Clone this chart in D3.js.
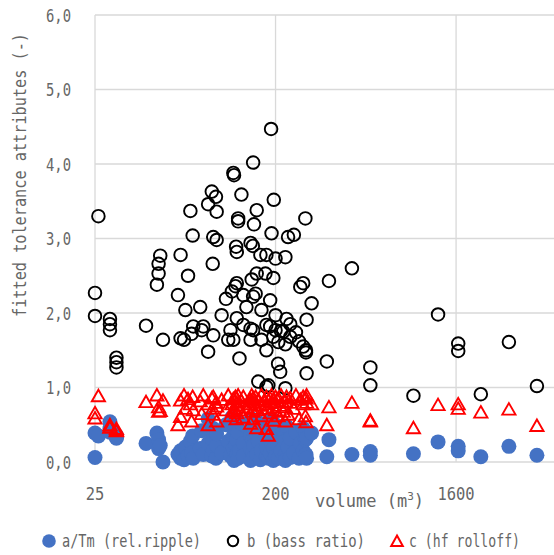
<!DOCTYPE html>
<html>
<head>
<meta charset="utf-8">
<script src="https://cdn.jsdelivr.net/npm/d3@7"></script>
<style>
    body { margin: 0; background: #fff; }
    text { font-family: 'DejaVu Sans Mono', monospace; fill: #666; }
</style>
</head>
<body>
<svg></svg>
<script>
// room volumes (m3), one entry per room
const volume = [25,25,26,29.7,29.7,29.7,32,32,32,45,
    51,52,52,53,54.7,65,67,67,69.7,70.8,
    73,75,76,77,77.5,84,85.4,87,92,92,
    96,97,97.6,97.6,100.7,101.5,101.5,107.5,113,116,
    119,121,123,123,124,126,127,128,128,128,
    130,130,132,135,138,138,143,150,150,150,
    152,154,154.5,154.5,154.5,156,159,161,161,164,
    168,170,170,178,180,180,180,180,184,188,
    188,190,191,195,195,196,200,200,200,206,
    206.5,211,213,218.5,224,224,224,227,231,237,
    237,247,253,262,266,275,275,282,284,284,
    286,286,303,361,370,482,596,596,979,1300,
    1640,1640,2128,2940,4060];

// a/Tm (rel.ripple)
const ripple = [0.39,0.06,0.35,0.54,0.40,0.45,0.32,0.36,0.33,0.25,
    0.39,0.18,0.30,0.22,0.00,0.10,0.05,0.15,0.03,0.20,
    0.08,0.28,0.12,0.35,0.05,0.18,0.42,0.10,0.25,0.58,
    0.08,0.30,0.15,0.45,0.05,0.22,0.38,0.12,0.50,0.28,
    0.08,0.60,0.18,0.35,0.02,0.45,0.22,0.10,0.55,0.30,
    0.05,0.40,0.15,0.52,0.25,0.08,0.48,0.18,0.35,0.02,
    0.58,0.12,0.30,0.45,0.05,0.22,0.40,0.10,0.55,0.28,
    0.03,0.48,0.15,0.36,0.08,0.52,0.20,0.42,0.05,0.30,
    0.12,0.58,0.25,0.02,0.45,0.18,0.38,0.08,0.50,0.22,
    0.05,0.35,0.15,0.42,0.10,0.28,0.02,0.48,0.20,0.06,
    0.32,0.12,0.40,0.05,0.25,0.15,0.45,0.30,0.10,0.38,
    0.05,0.32,0.39,0.07,0.30,0.10,0.14,0.09,0.11,0.27,
    0.21,0.15,0.07,0.21,0.09];

// b (bass ratio)
const bass = [2.27,1.96,3.30,1.92,1.85,1.77,1.40,1.34,1.27,1.83,
    2.38,2.66,2.53,2.77,1.64,2.24,2.78,1.66,1.64,2.04,
    2.50,3.37,1.72,3.04,1.82,2.08,1.77,1.82,3.46,1.48,
    3.63,2.66,3.02,1.70,3.56,3.36,2.98,1.97,2.19,1.64,
    1.77,2.29,3.88,1.64,3.85,2.36,2.89,2.82,2.40,1.93,
    3.27,3.23,1.39,3.59,2.24,1.84,2.08,2.94,1.64,1.79,
    2.45,2.90,4.02,1.77,2.22,3.19,2.26,3.38,2.53,1.08,
    2.78,2.04,1.64,2.53,2.78,1.84,1.50,1.01,1.03,2.17,
    1.82,4.47,3.07,2.47,1.68,3.52,2.73,1.97,1.77,1.32,
    1.61,1.21,1.76,1.75,2.75,0.99,1.58,1.92,3.02,1.68,
    1.85,3.05,1.74,1.62,2.35,2.40,1.55,3.27,1.50,1.47,
    1.91,1.19,2.13,1.35,2.43,2.60,1.27,1.03,0.89,1.98,
    1.59,1.49,0.91,1.61,1.02];

// c (hf rolloff)
const rolloff = [0.66,0.59,0.89,0.47,0.50,0.47,0.43,0.42,0.45,0.81,
    0.90,0.74,0.68,0.69,0.83,0.50,0.61,0.83,0.90,0.72,
    0.85,0.78,0.55,0.88,0.70,0.82,0.65,0.90,0.78,0.50,
    0.86,0.72,0.64,0.88,0.80,0.55,0.75,0.84,0.70,0.90,
    0.62,0.78,0.85,0.68,0.72,0.88,0.58,0.80,0.66,0.86,
    0.76,0.90,0.70,0.82,0.60,0.88,0.74,0.84,0.52,0.78,
    0.90,0.68,0.86,0.72,0.58,0.80,0.88,0.70,0.46,0.84,
    0.76,0.90,0.62,0.82,0.72,0.88,0.45,0.78,0.36,0.86,
    0.66,0.80,0.90,0.74,0.84,0.56,0.88,0.70,0.80,0.62,
    0.86,0.76,0.90,0.68,0.82,0.55,0.74,0.88,0.64,0.80,
    0.86,0.72,0.90,0.58,0.84,0.78,0.88,0.62,0.86,0.54,
    0.80,0.90,0.78,0.50,0.74,0.80,0.55,0.56,0.46,0.77,
    0.78,0.72,0.67,0.71,0.49];

const xTicks = [25, 200, 1600];
const yTicks = [0, 1, 2, 3, 4, 5, 6];

const legendNames = ['a/Tm (rel.ripple)', 'b (bass ratio)', 'c (hf rolloff)'];

const svg = d3.select('svg')
    .attr('width', 554)
    .attr('height', 555);

// plot area edges
const plotLeft = 95,
    plotRight = 554,
    plotTop = 15,
    plotBottom = 462,
    grid = '#d9d9d9';

// log axis, one grid step is a factor 8
const x = d3.scaleLog().domain([25, 5000]).range([plotLeft, 555]);
const y = d3.scaleLinear().domain([0, 6]).range([plotBottom, plotTop]);

// horizontal gridlines
svg.append('g').selectAll('line')
    .data(yTicks)
    .join('line')
    .attr('x1', plotLeft).attr('x2', plotRight)
    .attr('y1', d => y(d)).attr('y2', d => y(d))
    .attr('stroke', grid).attr('stroke-width', 1.3);

// vertical gridlines (the first one is the axis)
svg.append('g').selectAll('line')
    .data(xTicks)
    .join('line')
    .attr('x1', d => x(d)).attr('x2', d => x(d))
    .attr('y1', plotTop).attr('y2', plotBottom)
    .attr('stroke', grid).attr('stroke-width', 1.3);

// y tick labels, comma decimals
svg.append('g').selectAll('text')
    .data(yTicks)
    .join('text')
    .attr('x', 71)
    .attr('y', d => y(d) + 6.5)
    .attr('text-anchor', 'end')
    .attr('font-size', 18)
    .attr('textLength', 25)
    .attr('lengthAdjust', 'spacingAndGlyphs')
    .text(d => d3.format('.1f')(d).replace('.', ','));

// x tick labels
svg.append('g').selectAll('text')
    .data(xTicks)
    .join('text')
    .attr('x', d => x(d))
    .attr('y', 500)
    .attr('text-anchor', 'middle')
    .attr('font-size', 18)
    .attr('textLength', d => String(d).length * 9.3)
    .attr('lengthAdjust', 'spacingAndGlyphs')
    .text(d => d);

// axis titles
const xTitle = svg.append('text')
    .attr('x', 315)
    .attr('y', 507)
    .attr('font-size', 17);
xTitle.append('tspan').text('volume (m');
xTitle.append('tspan').attr('font-size', 11).attr('dy', -7).text('3');
xTitle.append('tspan').attr('dy', 7).text(')');

svg.append('text')
    .attr('transform', 'translate(26,175) rotate(-90)')
    .attr('text-anchor', 'middle')
    .attr('font-size', 17)
    .attr('textLength', 284)
    .attr('lengthAdjust', 'spacingAndGlyphs')
    .text('fitted tolerance attributes (-)');

// markers
const rooms = volume.map((v, i) => ({v: v, a: ripple[i], b: bass[i], c: rolloff[i]}));
const tri = 'M0,-6L6.6,5.5L-6.6,5.5Z';

svg.append('g').selectAll('circle')
    .data(rooms)
    .join('circle')
    .attr('cx', d => x(d.v))
    .attr('cy', d => y(d.a))
    .attr('r', 7.5)
    .attr('fill', '#4472c4');

svg.append('g').selectAll('circle')
    .data(rooms)
    .join('circle')
    .attr('cx', d => x(d.v))
    .attr('cy', d => y(d.b))
    .attr('r', 6.3)
    .attr('fill', 'none')
    .attr('stroke', '#000')
    .attr('stroke-width', 1.9);

svg.append('g').selectAll('path')
    .data(rooms)
    .join('path')
    .attr('transform', d => `translate(${x(d.v)},${y(d.c)})`)
    .attr('d', tri)
    .attr('fill', 'none')
    .attr('stroke', '#ff0000')
    .attr('stroke-width', 1.9);

// legend
const legend = svg.append('g');
legend.append('circle').attr('cx', 49).attr('cy', 541).attr('r', 6.8).attr('fill', '#4472c4');
legend.append('circle').attr('cx', 233).attr('cy', 541).attr('r', 5.2)
    .attr('fill', 'none').attr('stroke', '#000').attr('stroke-width', 2);
legend.append('path').attr('transform', 'translate(397,541)').attr('d', 'M0,-5.5L5.8,5L-5.8,5Z')
    .attr('fill', 'none').attr('stroke', '#ff0000').attr('stroke-width', 2);

const legendX = [62, 247, 409],
    legendW = [139, 118, 111];
legend.selectAll('text')
    .data(legendNames)
    .join('text')
    .attr('x', (d, i) => legendX[i])
    .attr('y', 547)
    .attr('font-size', 17)
    .attr('textLength', (d, i) => legendW[i])
    .attr('lengthAdjust', 'spacingAndGlyphs')
    .text(d => d);
</script>
</body>
</html>
